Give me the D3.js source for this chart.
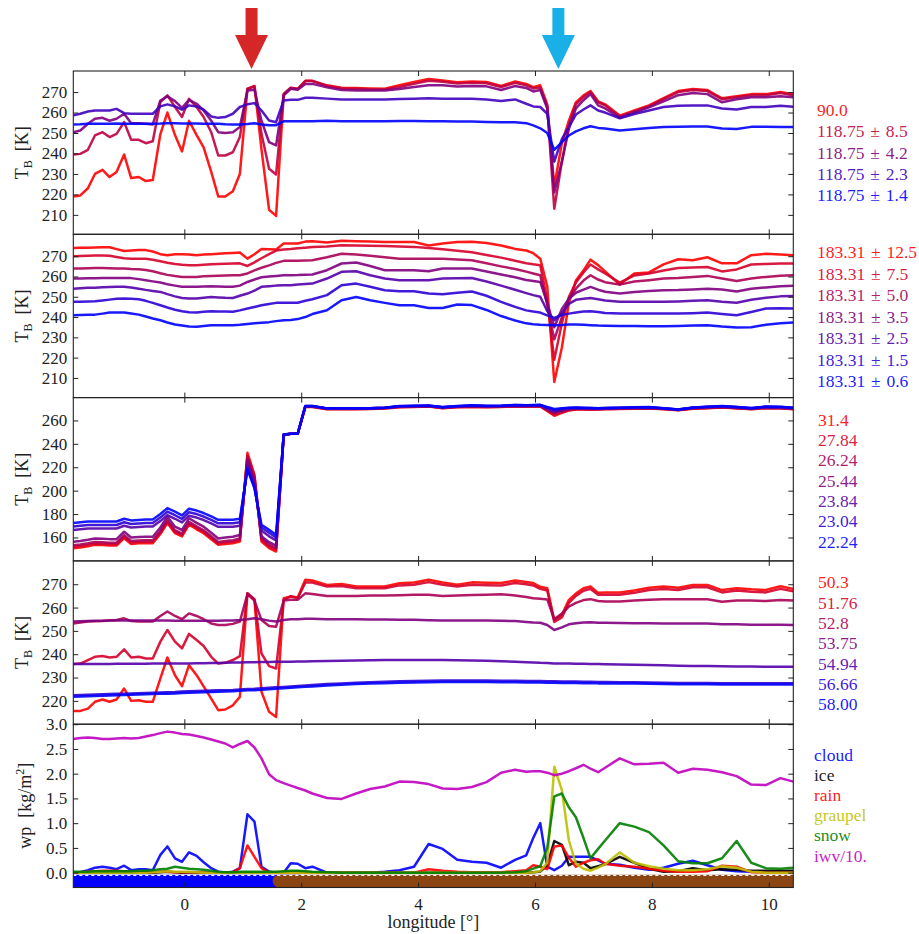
<!DOCTYPE html>
<html>
<head>
<meta charset="utf-8">
<script src="https://cdn.jsdelivr.net/npm/d3@7"></script>
<style>
  body { margin: 0; background: #fff; }
  svg text { font-family: "Liberation Serif", "Times New Roman", "DejaVu Serif", serif; }
</style>
</head>
<body>
<svg id="chart" width="919" height="934"></svg>
<script>
// longitude of each profile (shared by all panels)
const lon = [
  -1.90,-1.78,-1.65,-1.53,-1.40,-1.28,-1.16,-1.03,-0.91,-0.78,
  -0.66,-0.54,-0.41,-0.29,-0.16,-0.04,0.08,0.21,0.33,0.46,
  0.58,0.70,0.83,0.95,1.08,1.20,1.32,1.45,1.57,1.70,
  1.82,1.94,2.07,2.19,2.44,2.69,2.94,3.18,3.43,3.68,
  3.93,4.18,4.42,4.67,4.92,5.17,5.42,5.66,5.85,5.97,
  6.09,6.21,6.33,6.46,6.58,6.70,6.83,6.95,7.08,7.20,
  7.45,7.70,7.95,8.20,8.45,8.70,8.95,9.20,9.45,9.70,
  9.95,10.20,10.42
];

// panel 1: 90 / 118.75 GHz
const tb90 = [
  219,219.5,223,230,232,228.5,231,239.5,228,228.5,
  226.5,227,249.5,260,249,241,256,249,243,231,
  219,219,221.5,230,271.5,273,242,212.5,209.5,268.5,
  272,271.5,275.5,275.5,273.3,272.1,272,271.8,271.6,273.3,
  274.9,276.4,275.7,274.8,275.2,274.9,273,275.2,274,272.4,
  273.3,264,224,245,256,265,268.4,270.5,265.5,264,
  258.5,261,263.5,267,270.5,271.5,271,267,268,269,
  269,270,269
];
const tb118_85 = [
  239.5,239.8,241.8,248.8,250.4,248,249.6,255.3,246.7,246.7,
  245,246,265.1,268.4,262.7,257.8,266.7,262.7,257.8,250.4,
  239,239,240.6,248,271.6,272.8,249.6,232.5,229.7,269.2,
  272.1,271.6,275.4,275.4,273,271.8,271.6,271.3,271.3,272.5,
  274,275.5,275,274.2,274.5,274.3,272.5,274.5,273.3,271.8,
  272.2,263,213,236,254,264,267.5,270,265,263.5,
  258,260.5,263,266.5,270,271,270.5,266.5,267.5,268.5,
  268.5,269.5,268.5
];
const tb118_42 = [
  250.4,251.2,254.5,257,257.4,256,257,259.4,254.8,254.8,
  254.5,254.2,265.9,267.9,265.6,262.3,266.2,264.3,261,256,
  250.4,250,250.4,252.9,270.8,271.1,256,245.5,243.9,268.4,
  271.6,271.1,274,274,272.3,271,270.8,270.8,270.8,271.5,
  272.5,273.3,273.3,272.7,273,272.8,271,273,272,270.3,
  271,262,221,236,252,262,266,269,263.5,262,
  257.5,260,262.5,265.5,268.5,269.5,269,265,266.5,267.5,
  267.5,268,267.5
];
const tb118_23 = [
  258.6,259.4,260.5,261,261,261,261.8,259.7,259.4,259.4,
  259.4,259.4,263,264,263,261.4,263.5,263,261.4,258.1,
  257.4,257.8,259.4,262.7,264,264.6,261,256.1,255.3,265.9,
  266.2,266.2,267.2,267.2,266.8,266.4,266.4,266.4,266.4,266.6,
  266.8,267,266.8,266.7,266.7,266.4,265.6,266.4,264.3,263,
  262.7,259.4,236,247,253,259,261.5,263.5,261,260,
  257.2,259.3,261,262.7,263.3,263.5,263.5,262,261.5,262.7,
  262.7,263.3,262.8
];
const tb118_14 = [
  254.2,254.3,254.5,254.5,254.5,254.5,254.7,254.5,254.5,254.5,
  254.5,254.5,254.6,254.8,254.8,254.6,254.6,254.6,254.5,254.5,
  254.5,254.3,254.2,254.2,254.4,254.8,254.2,253.8,253.8,255.7,
  255.8,255.8,255.8,255.8,256,255.8,255.8,255.8,255.8,255.9,
  255.9,255.8,255.8,255.6,255.6,255.4,255.3,255.3,254.8,253.7,
  252.3,250,241.8,245.5,248.8,250.8,252.3,253.3,252.5,252.2,
  251.2,251.8,252.5,252.9,253,253.2,253.2,252.2,252,253,
  253,252.9,252.9
];
const p1Labels = ["90.0", "118.75\u2004\u00b1\u20048.5", "118.75\u2004\u00b1\u20044.2", "118.75\u2004\u00b1\u20042.3", "118.75\u2004\u00b1\u20041.4"];

// panel 2: 183.31 GHz
const tb183_125 = [
  274.1,274.2,274.2,274.3,274.4,274.4,273.5,272.6,272.8,273,
  273,272.3,271,270.5,271,271,270.8,270.5,270.8,271,
  271.2,271.4,271.6,271.8,268.8,271,273.5,273.4,273.3,276.3,
  276.3,276.3,277.2,277.4,276.8,277.6,277.4,277.2,277,277,
  277,275.3,276.3,277,277.1,276.5,275.3,273.6,272.8,271.5,
  268.8,255,208,225,247,258,263,268.3,265.6,262.5,
  256,261.5,262,266,268.5,268,269.5,266.5,266.5,270.5,
  271.2,270.8,270.5
];
const tb183_75 = [
  270,270.1,270.2,270.3,270.3,270.2,269.6,269,268.8,268.8,
  268.8,268.3,267.5,266.8,266.2,265.8,265.6,265.6,265.8,266,
  266.2,266.3,266.4,266.5,265.2,267,269,271,272.8,273.3,
  273.5,273.9,274.2,274.5,274.8,275.4,275.3,275.2,275,274.8,
  274.6,274,273.4,272.7,271.9,270.6,269.3,267.8,266.5,266,
  265.6,248,219,237,250,257,262,265.9,263.5,261.5,
  257,260.5,261.5,263,264.2,264.4,264.7,262.5,263.5,265.9,
  266.2,266.4,266.4
];
const tb183_50 = [
  263.9,264,264.1,264.2,264.2,264.1,264,263.9,263.7,263.6,
  263.2,262.6,261.6,260.8,260.2,259.8,259.8,259.8,260.1,260.3,
  260.4,260.5,260.6,260.6,261.5,263,264.3,265.5,266.7,267.7,
  267.7,267.8,267.9,268,269.5,271.2,270.8,270.2,269.5,268.8,
  268.8,268.8,268.7,268.4,268,266.5,265,263.7,262.4,261.5,
  260.6,246,229,240,249,254,258,260.6,258.5,257.2,
  256,257.5,258.2,259,259.3,259.8,260.3,259,257.8,259,
  259.8,260.4,260.6
];
const tb183_35 = [
  259,259,259.1,259.1,259.2,259.2,259.3,259.3,259.2,258.7,
  258.2,257.6,257,256.2,255.5,254.9,254.9,254.9,255.1,255.2,
  255.1,255,254.9,255.5,257.3,258.5,259.6,260,260.3,260.6,
  260.6,260.7,260.9,261,263.1,266.4,266.9,265.2,263.1,263.1,
  263.1,262.6,263.9,263.9,263.9,262.5,261,259.6,258.3,257.8,
  257.3,247,235,244,249,252,253.5,254.9,253.5,252.5,
  251.6,252.3,252.8,253.2,253.3,253.6,254,253.6,252.6,254,
  254.6,255.2,255.4
];
const tb183_25 = [
  254,254.2,254.4,254.5,254.7,254.8,254.9,254.9,254.6,254,
  253.4,252.9,252.4,251.3,250.2,249.4,249.2,249.1,249.5,249.9,
  249.7,249.5,249.4,250.5,251.6,253,254.9,255.2,255.5,255.7,
  255.7,256,256.3,256.5,259,262.3,262.6,260.6,259,258.2,
  258.2,258.2,259,259.1,259.3,257.5,255.5,253.5,251.8,250.8,
  250,243,238.4,242,246.5,248.5,249,249.4,248.8,248.2,
  247.5,247.5,247.5,247.5,247.7,248,248.3,247.6,247.1,248.5,
  249.5,250.2,250.4
];
const tb183_15 = [
  247.5,247.6,247.7,247.8,248.2,248.6,249,249.1,249,248.8,
  248,247,245.8,244.7,243.6,242.9,242.4,242.3,242.6,242.9,
  242.8,242.7,242.6,243.3,244.2,245,245.8,246.4,247,247,
  247,247.1,248,248.8,250.8,255.7,256.5,254.9,253.2,252.7,
  252.7,251.6,251.3,252,252.6,250.5,247.5,245,243.3,242.7,
  242.2,240.8,239.6,241,241.7,242.3,242.8,242.9,242.5,242,
  241.7,241.7,241.7,241.7,241.7,241.9,242.2,241.5,240.9,242.5,
  244.2,244.4,244.2
];
const tb183_06 = [
  240.9,241,241.1,241.2,241.7,242.2,242.2,242.2,241.8,241.2,
  240.3,239.3,238.4,237.3,236.3,235.8,235.3,235.2,235.6,236,
  236,236,236,236.2,236.6,236.9,237.2,237.5,238,238.4,
  238.6,239,240,241.5,243.4,248.3,249.9,248.3,247,245.8,
  245.8,244.5,244.5,246.2,245.9,243.5,240.5,238.3,236.9,236.5,
  236.2,236.1,236,236.1,236.3,236.3,236.2,236,235.8,235.7,
  235.6,235.6,235.5,235.5,235.6,235.8,236,235.3,234.8,235,
  236.2,237,237.3
];
const p2Labels = ["12.5", "7.5", "5.0", "3.5", "2.5", "1.5", "0.6"].map(d => "183.31\u2004\u00b1\u2004" + d);

// panel 3: 22-31 GHz
const tb314 = [
  150.9,151.5,152.5,153.7,153.5,153.1,153.1,159.4,154.5,155,
  155.1,155.1,163,172.3,163.7,160.9,170.9,167,163.7,158.5,
  153.7,154.5,155.1,156.6,232.3,213.7,156.6,151,148,247.4,
  248.6,248.6,271.4,271.4,269.5,269.5,269.5,269.8,270.2,271.3,
  271.5,271.8,270.5,271.2,271.5,271.3,271.5,272,271.8,271.8,
  272,268,264,266.5,268.5,269.3,269.3,269.2,269.3,269.5,
  269.8,270,270.2,269.5,268.6,270,270.5,271,270.3,269.5,
  270.5,270.3,269.5
];
const tb2784 = [
  152.1,152.7,153.7,154.9,154.7,154.3,154.3,160.6,155.7,156.2,
  156.3,156.3,164.2,173.5,164.9,162.1,172.1,168.2,164.9,159.7,
  154.9,155.7,156.3,157.8,230,212,158,152.5,149.5,247.5,
  248.6,248.6,271.6,271.6,269.7,269.7,269.7,270,270.4,271.5,
  271.7,272,270.7,271.4,271.8,271.5,271.7,272.2,272,272,
  272.2,268.5,265,267,269,269.6,269.6,269.5,269.5,269.7,
  270,270.2,270.4,269.7,268.8,270.2,270.7,271.2,270.5,269.7,
  270.7,270.5,269.7
];
const tb2624 = [
  153.4,154,155,156.2,156,155.6,155.6,161.9,157,157.5,
  157.6,157.6,165.5,174.8,166.2,163.4,173.4,169.5,166.2,161,
  156.2,157,157.6,159.1,228,210,159.5,154,151,247.6,
  248.6,248.6,271.8,271.8,269.9,269.9,269.9,270.2,270.6,271.7,
  271.9,272.2,270.9,271.6,272,271.7,271.9,272.4,272.2,272.2,
  272.4,269,266,267.8,269.4,269.9,269.9,269.8,269.8,270,
  270.2,270.4,270.6,269.9,269,270.4,270.9,271.4,270.7,269.9,
  270.9,270.7,269.9
];
const tb2544 = [
  156.4,157,158,159.2,159,158.6,158.6,164.9,160,160.5,
  160.6,160.6,168.5,177.8,169.2,166.4,176.4,172.5,169.2,164,
  159.2,160,160.6,162.1,226,208,161,156,153,247.7,
  248.6,248.6,272,272,270.1,270.1,270.1,270.4,270.8,271.9,
  272.1,272.4,271.1,271.8,272.3,271.9,272.1,272.6,272.4,272.5,
  272.6,269.6,267,268.6,269.8,270.2,270.2,270.1,270,270.2,
  270.4,270.6,270.8,270.1,269.2,270.6,271.1,271.7,270.9,270.1,
  271.1,270.9,270.2
];
const tb2384 = [
  166.3,167,167.7,167.7,167.7,167.7,167.7,170,168.6,169,
  169.4,169.4,174,179.1,176,172.9,178.6,177,174.9,172,
  169.1,169.1,169.1,170,221,204,166,161,157.5,247.8,
  248.6,248.6,272.2,272.2,270.2,270.2,270.2,270.4,270.8,272,
  272.3,272.6,271.2,272,272.6,272.2,272.3,272.9,272.7,272.8,
  273,270.4,268,269.3,270.3,270.6,270.5,270.4,270.2,270.4,
  270.6,270.9,271.1,270.2,269.3,270.8,271.4,272,271.2,270.3,
  271.5,271.3,270.6
];
const tb2304 = [
  169.3,170,170.7,170.7,170.7,170.7,170.7,173,171.6,172,
  172.4,172.4,177,182.1,179,175.9,181.6,180,177.9,175,
  172.1,172.1,172.1,173,219.5,203,168.5,164,160,247.9,
  248.6,248.6,272.3,272.3,270.3,270.3,270.3,270.5,270.9,272.2,
  272.4,272.8,271.3,272.2,272.8,272.4,272.5,273.1,272.9,273,
  273.2,271,269,269.9,270.6,270.8,270.7,270.6,270.4,270.6,
  270.8,271.1,271.3,270.3,269.4,270.9,271.6,272.2,271.4,270.5,
  271.7,271.5,270.8
];
const tb2224 = [
  172.3,173,173.7,173.7,173.7,173.7,173.7,176,174.6,175,
  175.4,175.4,180,185.1,182,178.9,184.6,183,180.9,178,
  175.1,175.1,175.1,176,218,202,170.9,166.5,162.3,248,
  248.6,248.6,272.3,272.3,270.3,270.3,270.3,270.5,270.9,272.3,
  272.5,272.6,271.4,272.3,272.9,272.6,272.6,273.2,273,273.2,
  273.3,271.5,269.8,270.4,270.9,271,270.9,270.7,270.5,270.7,
  270.9,271.2,271.4,270.4,269.4,271,271.7,272.3,271.5,270.6,
  271.8,271.6,270.9
];
const p3Labels = ["31.4", "27.84", "26.24", "25.44", "23.84", "23.04", "22.24"];

// panel 4: 50-58 GHz
const tb503 = [
  215.7,215.7,216.7,219.6,220.6,219.6,220.6,225.3,220,220.3,
  219.6,219.6,229.6,238.6,231,226.3,235.3,231,226.2,221,
  216,216.3,218.1,221.7,266.1,263.3,223.9,215.3,213.1,264,
  264.7,264.3,271.9,271.6,269.7,270.1,269,269,269,270.4,
  270.7,271.9,270.7,269.8,270.8,270.6,270.5,271.6,271,270.5,
  268.9,268.3,254.7,256.8,263.3,266,268.3,269,266.3,266.5,
  266.5,267.3,268.5,269,268.5,269.7,269.7,267.5,268.3,267.8,
  267.5,269.1,268
];
const tb5176 = [
  235.8,236,237.5,238.9,239.2,238.6,238.9,242.1,238.6,238.9,
  238.2,238.2,245.4,250.4,245.4,242.5,248.7,246.1,243.5,238.9,
  236,236.3,237.5,239.2,266.1,263.6,240.3,234.9,233.9,263.3,
  264.9,264,270.7,270.7,269,269.2,268.3,268.3,268.3,269.5,
  269.8,270.9,269.8,269,269.8,269.6,269.5,270.5,270,269.5,
  268,267.3,253.8,255.8,262,265,267.2,268,265.5,265.5,
  265.5,266.3,267.5,268,267.5,268.7,268.7,266.5,267.3,266.8,
  266.5,268,267
];
const tb528 = [
  253.2,253.6,254,254.1,254.2,254.5,254.7,255.4,254.2,254,
  254,254,256.4,258.3,256.4,255,257.5,256.4,255,253.2,
  252.5,252.5,253,254,265.8,263,254.7,252.1,251.8,263,
  263.3,263.3,266.1,265.8,265,265,265,265.2,265.2,265.3,
  265.5,265.5,265,265.2,265.4,265.5,265.7,265.2,264.5,264,
  263.8,263.5,255,257.5,260.4,262,263.2,263.6,262.8,262.6,
  262.6,263,263.3,263.6,263.6,263.6,263.6,262.5,263,263,
  262.8,263.2,263
];
const tb5375 = [
  254,254.1,254.2,254.3,254.3,254.4,254.4,254.4,254.4,254.4,
  254.4,254.4,254.4,254.4,254.3,254.3,254.3,254.3,254.3,254.3,
  254.3,254.4,254.5,254.7,255,255.4,255,254.4,254,254.7,
  255,255,255.2,255.2,255,255,255,254.9,254.9,254.8,
  254.8,254.6,254.4,254.4,254.4,254.4,254.3,254.2,253.8,253.6,
  253.5,252.5,250.4,251.5,252.8,253.3,253.6,253.7,253.5,253.5,
  253.4,253.3,253.3,253.2,253.2,253.2,253.2,252.8,252.8,252.6,
  252.6,252.6,252.5
];
const tb5494 = [
  235.8,235.8,235.8,235.8,235.8,235.8,235.9,235.9,235.9,235.9,
  235.9,236,236,236,236,236,236,236.1,236.1,236.2,
  236.2,236.3,236.4,236.5,236.6,236.6,236.7,236.7,236.8,236.8,
  236.8,236.9,236.9,237,237.1,237.2,237.3,237.4,237.5,237.5,
  237.5,237.5,237.5,237.4,237.3,237.2,237,236.8,236.6,236.5,
  236.3,236.2,236,236,236,235.9,235.9,235.8,235.8,235.7,
  235.6,235.5,235.4,235.3,235.1,235,234.9,234.8,234.7,234.7,
  234.6,234.6,234.6
];
const tb5666 = [
  222.4,222.5,222.6,222.7,222.8,222.9,223,223.1,223.2,223.3,
  223.4,223.5,223.6,223.7,223.8,224,224.1,224.2,224.3,224.4,
  224.5,224.6,224.7,224.9,225.1,225.2,225.4,225.6,225.8,226,
  226.2,226.4,226.6,226.8,227.2,227.5,227.8,228,228.2,228.4,
  228.5,228.6,228.7,228.7,228.7,228.7,228.6,228.6,228.5,228.5,
  228.5,228.4,228.4,228.3,228.3,228.3,228.2,228.2,228.1,228.1,
  228,228,227.9,227.8,227.7,227.7,227.7,227.6,227.6,227.6,
  227.6,227.6,227.6
];
const tb5800 = [
  221.8,221.9,222,222.1,222.2,222.3,222.4,222.5,222.6,222.7,
  222.8,222.9,223,223.1,223.2,223.4,223.5,223.6,223.7,223.8,
  223.9,224,224.1,224.3,224.5,224.6,224.8,225,225.2,225.4,
  225.6,225.8,226,226.2,226.6,226.9,227.2,227.4,227.6,227.8,
  227.9,228,228.1,228.1,228.1,228.1,228,228,227.9,227.9,
  227.9,227.8,227.8,227.7,227.7,227.7,227.6,227.6,227.5,227.5,
  227.4,227.4,227.3,227.2,227.1,227.1,227.1,227,227,227,
  227,227,227
];
const p4Labels = ["50.3", "51.76", "52.8", "53.75", "54.94", "56.66", "58.00"];

// panel 5: water paths [kg/m2]
const cloud = [
  0,0.01,0.05,0.1,0.12,0.1,0.07,0.14,0.05,0.07,
  0.07,0.05,0.36,0.53,0.29,0.22,0.41,0.34,0.21,0.09,
  0.02,0,0.02,0.09,1.18,1.03,0.12,0.02,0,0,
  0.19,0.18,0.09,0.12,0,0,0,0,0.02,0.05,
  0.12,0.58,0.48,0.26,0.22,0.2,0.1,0.26,0.35,0.7,
  1.0,0.12,0.05,0.14,0.32,0.32,0.32,0.32,0.25,0.18,
  0.16,0.1,0.06,0.1,0.18,0.24,0.15,0.06,0.03,0.02,
  0.02,0.02,0.02
];
const ice = [
  0,0,0,0,0,0,0,0,0,0,
  0,0,0.01,0.02,0.01,0,0.01,0,0,0,
  0,0,0,0,0,0,0,0,0,0.01,
  0.02,0.03,0.01,0,0,0,0,0,0,0,
  0,0,0,0,0,0,0,0,0,0.01,
  0.02,0.15,0.64,0.56,0.15,0.22,0.2,0.09,0.13,0.17,
  0.32,0.2,0.08,0.02,0.03,0.09,0.05,0.07,0.06,0.04,
  0.04,0.04,0.04
];
const rain = [
  0.01,0.01,0.02,0.03,0.04,0.04,0.04,0.03,0.02,0.01,
  0.01,0.01,0.02,0.02,0.01,0.01,0.01,0.01,0,0,
  0,0,0.01,0.09,0.55,0.32,0.09,0,0,0,
  0,0,0,0,0,0,0,0,0,0,
  0,0.07,0.04,0.02,0.01,0.01,0.01,0.03,0.05,0.15,
  0.12,0.07,0.53,0.55,0.3,0.12,0.2,0.25,0.27,0.18,
  0.14,0.12,0.08,0.04,0.02,0.02,0.03,0.14,0.12,0.01,
  0,0,0
];
const graupel = [
  0,0,0,0,0,0,0,0,0,0,
  0,0.01,0.02,0.03,0.02,0.02,0.02,0.01,0,0,
  0,0,0,0,0,0,0,0,0,0,
  0,0,0,0,0,0,0,0,0,0,
  0,0,0,0,0,0,0,0,0,0.01,
  0.03,0.2,2.14,1.67,0.65,0.18,0.08,0.04,0.1,0.17,
  0.41,0.2,0.13,0.08,0.05,0.05,0.07,0.13,0.1,0.02,
  0,0,0
];
const snow = [
  0.02,0.02,0.02,0.03,0.03,0.03,0.03,0.03,0.03,0.04,
  0.04,0.05,0.07,0.08,0.12,0.1,0.08,0.07,0.06,0.04,
  0.02,0.01,0.01,0.02,0.02,0.02,0.02,0.02,0.02,0.03,
  0.04,0.04,0.03,0.02,0.01,0,0,0,0,0,
  0,0,0,0,0,0,0,0.01,0.03,0.08,
  0.13,0.5,1.54,1.6,1.32,1.12,0.7,0.29,0.48,0.65,
  1.0,0.93,0.82,0.55,0.23,0.19,0.19,0.29,0.64,0.2,
  0.09,0.08,0.1
];
const iwv10 = [
  2.70,2.72,2.73,2.72,2.70,2.70,2.71,2.72,2.71,2.72,
  2.75,2.78,2.82,2.85,2.83,2.80,2.79,2.76,2.73,2.69,
  2.65,2.61,2.53,2.60,2.66,2.53,2.31,1.99,1.87,1.81,
  1.76,1.71,1.66,1.60,1.51,1.49,1.60,1.69,1.74,1.84,
  1.83,1.79,1.70,1.69,1.73,1.83,2.02,2.08,2.04,2.05,
  2.05,2.02,1.97,2.00,2.05,2.11,2.18,2.10,2.03,2.12,
  2.31,2.19,2.20,2.22,2.02,2.10,2.08,2.03,1.95,1.78,
  1.77,1.91,1.84
];
const p5Labels = ["cloud", "ice", "rain", "graupel", "snow", "iwv/10."];
const p5Colors = ["#0000ff", "#000000", "#ff0000", "#bfbf00", "#008000", "#bf00bf"];

// surface type under the track
const surfaceSeg = [[-1.9, 1.62], [1.62, 10.42]];
const surfaceColors = ["#0000ff", "#8b4513"];

// tick values
const xTicks = [0, 2, 4, 6, 8, 10];
const p1Ticks = [210, 220, 230, 240, 250, 260, 270];
const p2Ticks = [210, 220, 230, 240, 250, 260, 270];
const p3Ticks = [160, 180, 200, 220, 240, 260];
const p4Ticks = [220, 230, 240, 250, 260, 270];
const p5Ticks = [0, 0.5, 1.0, 1.5, 2.0, 2.5, 3.0];

// the two marked profiles
const arrowLon = [1.15, 6.40];
const arrowColors = ["#d62728", "#18b0e6"];

// ---------------------------------------------------------------
const FONT = '"Liberation Serif", "Times New Roman", "DejaVu Serif", serif';
const svg = d3.select("#chart");
const x = d3.scaleLinear().domain([-1.9, 10.42]).range([73.3, 793.3]);
const panelTop = [71, 234.3, 397.6, 560.9, 724.2];
const panelH = 163.3;

const redBlue = n => d3.range(n).map(i => d3.interpolateRgb("#ff0000", "#0000ff")(i / (n - 1)));

const panels = [
  { series: [tb90, tb118_85, tb118_42, tb118_23, tb118_14], labels: p1Labels, colors: redBlue(5),
    domain: [200.5, 280.3], ticks: p1Ticks, fmt: d3.format("d"), lx: 817, ly: 116, ls: 21.3 },
  { series: [tb183_125, tb183_75, tb183_50, tb183_35, tb183_25, tb183_15, tb183_06], labels: p2Labels, colors: redBlue(7),
    domain: [200.3, 280.8], ticks: p2Ticks, fmt: d3.format("d"), lx: 817, ly: 258.3, ls: 21.5 },
  { series: [tb314, tb2784, tb2624, tb2544, tb2384, tb2304, tb2224], labels: p3Labels, colors: redBlue(7),
    domain: [140, 279.5], ticks: p3Ticks, fmt: d3.format("d"), lx: 818, ly: 425.7, ls: 20.3 },
  { series: [tb503, tb5176, tb528, tb5375, tb5494, tb5666, tb5800], labels: p4Labels, colors: redBlue(7),
    domain: [210, 280], ticks: p4Ticks, fmt: d3.format("d"), lx: 818, ly: 588.3, ls: 20.3 },
  { series: [cloud, ice, rain, graupel, snow, iwv10], labels: p5Labels, colors: p5Colors,
    domain: [-0.3, 3.0], ticks: p5Ticks, fmt: d3.format(".1f"), lx: 814, ly: 761, ls: 20.1 }
];

const defs = svg.append("defs");

panels.forEach((p, k) => {
  const top = panelTop[k], bottom = top + panelH;
  const y = d3.scaleLinear().domain(p.domain).range([bottom, top]);
  const g = svg.append("g");

  defs.append("clipPath").attr("id", "clip" + k)
    .append("rect")
    .attr("x", x.range()[0]).attr("y", top)
    .attr("width", x.range()[1] - x.range()[0]).attr("height", panelH);

  const plot = g.append("g").attr("clip-path", `url(#clip${k})`);

  // surface band under the water paths
  if (k === 4) {
    const bandY = y(-0.17), bandW = y(-0.3) - y(-0.04);
    surfaceSeg.forEach((s, i) => {
      plot.append("line")
        .attr("x1", x(s[0])).attr("x2", x(s[1]) + 20)
        .attr("y1", bandY).attr("y2", bandY)
        .attr("stroke", surfaceColors[i])
        .attr("stroke-width", bandW)
        .attr("stroke-linecap", "round");
    });
    plot.append("line")
      .attr("x1", x.range()[0]).attr("x2", x.range()[1])
      .attr("y1", y(-0.055)).attr("y2", y(-0.055))
      .attr("stroke", "#fff").attr("stroke-width", 1.2)
      .attr("stroke-dasharray", "3,3");
  }

  const line = d3.line().x((d, i) => x(lon[i])).y(d => y(d));
  p.series.forEach((s, i) => {
    plot.append("path")
      .attr("d", line(s))
      .attr("fill", "none")
      .attr("stroke", p.colors[i])
      .attr("stroke-width", 2.5)
      .attr("stroke-opacity", 0.9)
      .attr("stroke-linejoin", "round");
  });

  // axes with inward ticks on all four sides
  g.append("g").attr("transform", `translate(${x.range()[0]},0)`)
    .call(d3.axisLeft(y).tickValues(p.ticks).tickFormat(p.fmt).tickSize(-5).tickSizeOuter(0).tickPadding(6));
  g.append("g").attr("transform", `translate(${x.range()[1]},0)`)
    .call(d3.axisRight(y).tickValues(p.ticks).tickFormat("").tickSize(-5).tickSizeOuter(0));
  g.append("g").attr("transform", `translate(0,${top})`)
    .call(d3.axisTop(x).tickValues(xTicks).tickFormat("").tickSize(-5).tickSizeOuter(0));
  g.append("g").attr("transform", `translate(0,${bottom})`)
    .call(d3.axisBottom(x).tickValues(xTicks).tickFormat(k === 4 ? d3.format("d") : "").tickSize(-5).tickSizeOuter(0).tickPadding(10));

  g.selectAll(".domain").remove();
  g.selectAll(".tick line").attr("stroke", "#222");
  g.selectAll(".tick text").attr("font-size", 17).attr("fill", "#222")
    .attr("font-family", FONT);

  g.append("rect")
    .attr("x", x.range()[0]).attr("y", top)
    .attr("width", x.range()[1] - x.range()[0]).attr("height", panelH)
    .attr("fill", "none").attr("stroke", "#222").attr("stroke-width", 1.1);

  // y label
  const lab = g.append("text")
    .attr("transform", `translate(${k === 4 ? 31 : 28},${top + panelH / 2}) rotate(-90)`)
    .attr("text-anchor", "middle")
    .attr("font-family", FONT)
    .attr("font-size", 18)
    .attr("fill", "#222");
  if (k < 4) {
    lab.append("tspan").text("T");
    lab.append("tspan").attr("font-size", 12).attr("dy", 4).text("B");
    lab.append("tspan").attr("dy", -4).text("\u2002[K]");
  } else {
    lab.append("tspan").text("wp\u2002[kg/m");
    lab.append("tspan").attr("font-size", 12).attr("dy", -7).text("2");
    lab.append("tspan").attr("dy", 7).text("]");
  }

  // colored labels on the right
  p.labels.forEach((t, i) => {
    g.append("text")
      .attr("x", p.lx).attr("y", p.ly + i * p.ls)
      .attr("font-family", FONT)
      .attr("font-size", 17.5)
      .attr("fill", p.colors[i])
      .attr("fill-opacity", 0.9)
      .text(t);
  });
});

// x label
svg.append("text")
  .attr("x", (x.range()[0] + x.range()[1]) / 2)
  .attr("y", 928)
  .attr("text-anchor", "middle")
  .attr("font-family", FONT)
  .attr("font-size", 18)
  .attr("fill", "#222")
  .text("longitude [\u00b0]");

// arrows marking the two profiles
arrowLon.forEach((l, i) => {
  const cx = x(l);
  const pts = [[cx - 6, 8], [cx + 6, 8], [cx + 6, 35], [cx + 16.5, 35], [cx, 69],
               [cx - 16.5, 35], [cx - 6, 35]];
  svg.append("polygon")
    .attr("points", pts.map(d => d.join(",")).join(" "))
    .attr("fill", arrowColors[i]);
});
</script>
</body>
</html>
